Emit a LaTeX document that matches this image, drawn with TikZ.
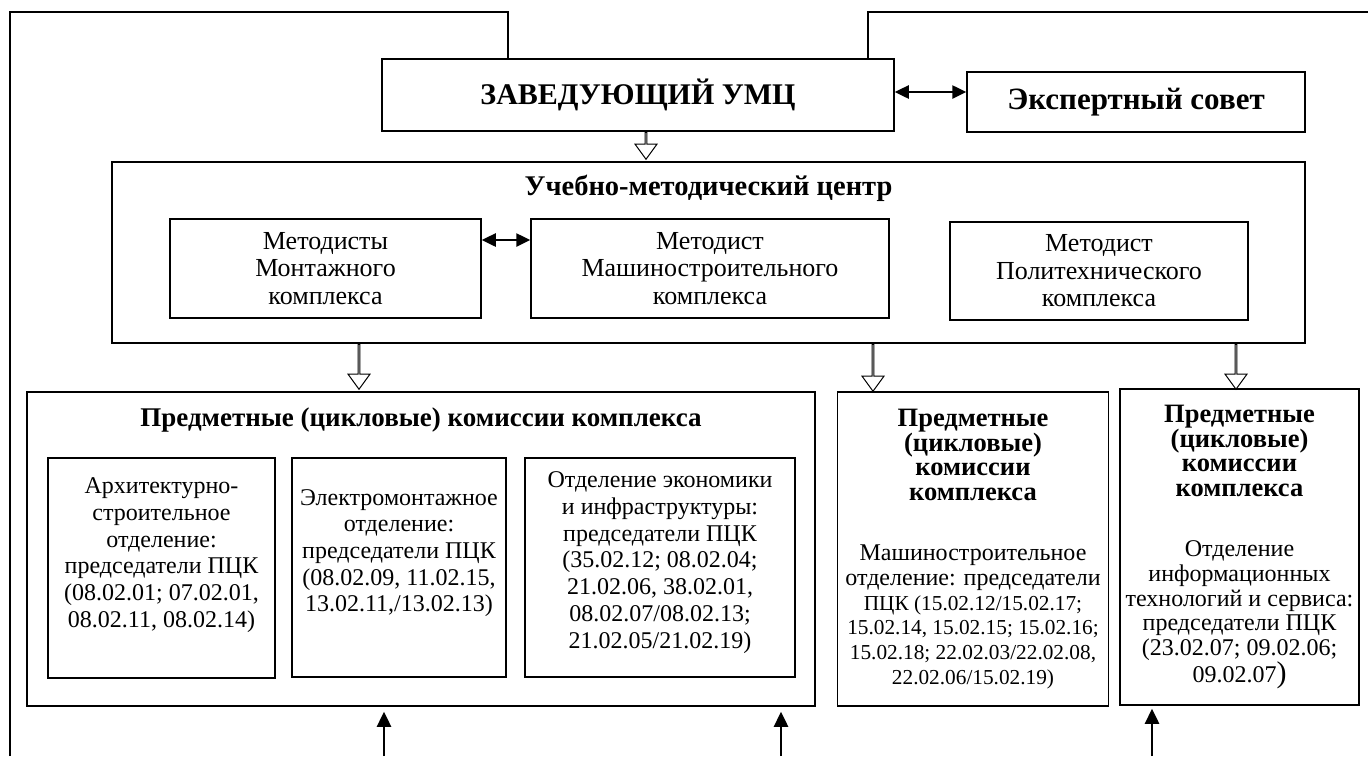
\documentclass[tikz,border=0pt]{standalone}
\usepackage{fontspec}
\setmainfont{Liberation Serif}
\usetikzlibrary{arrows.meta,shapes.arrows}

\newcommand\hdfont{\bfseries\fontsize{26.5}{24.8}\selectfont}
\newcommand\smfont{\fontsize{21.3}{24.8}\selectfont}

\begin{document}
\begin{tikzpicture}[x=1pt,y=-1pt,
  every node/.style={font=\fontsize{24}{26.7}\selectfont},
  box/.style={draw,line width=1.5pt,inner sep=0pt,align=center},
  txt/.style={align=center,inner sep=0pt},
  harrow/.style={draw,line width=1pt,single arrow,shape border rotate=270,
    single arrow head extend=6pt,single arrow tip angle=72,minimum width=22pt,
    inner sep=0pt,anchor=tail},
  link/.style={line width=1.5pt},
  both/.style={line width=2.5pt,<->,>={Triangle[length=14pt,width=13pt]}},
  up/.style={line width=2.5pt,->,>={Triangle[length=15pt,width=14pt]}}]
  \useasboundingbox (0,0) rectangle (1368,756);

  % top level
  \node[box,font=\bfseries\fontsize{30}{34}\selectfont,minimum width=512,minimum height=72] (zav) at (638,95) {ЗАВЕДУЮЩИЙ УМЦ};
  \node[box,font=\bfseries\fontsize{31}{34}\selectfont,minimum width=338,minimum height=60] (exp) at (1136,102) {Экспертный совет};
  \draw[both] (zav.east |- 0,92) -- (exp.west |- 0,92);

  % outer frame
  \coordinate (fl) at (10,756);
  \coordinate (fr) at (1368,12);
  \draw[link] (fl) |- (508,12) -- (zav.north -| 508,0);
  \draw[link] (zav.north -| 868,0) |- (fr);

  % UMC
  \node[box,minimum width=1193,minimum height=181] (umc) at (708.5,252.5) {};
  \node[font=\bfseries\fontsize{28.5}{30}\selectfont] (umct) at (708.5,188) {Учебно-методический центр};
  \node[box,font=\fontsize{26}{27.5}\selectfont,minimum width=311,minimum height=99] (met1) at (325.5,268.5) {Методисты\\Монтажного\\комплекса};
  \node[box,font=\fontsize{26}{27.5}\selectfont,minimum width=358,minimum height=99] (met2) at (710,268.5) {Методист\\Машиностроительного\\комплекса};
  \node[box,font=\fontsize{26}{27.5}\selectfont,minimum width=298,minimum height=98] (met3) at (1099,271) {Методист\\Политехнического\\комплекса};
  \draw[both] (met1.east |- 0,240) -- (met2.west |- 0,240);

  \node[harrow,minimum height=27] (h0) at (zav.south -| 646,0) {};
  \node[harrow,minimum height=45] (h1) at (umc.south -| 359,0) {};
  \node[harrow,minimum height=47] (h2) at (umc.south -| 873,0) {};
  \node[harrow,minimum height=45] (h3) at (umc.south -| 1236,0) {};

  % PCK
  \node[box,minimum width=788,minimum height=314] (pck) at (421,549) {};
  \node[font=\bfseries\fontsize{27}{30}\selectfont] (pckt) at (421,420) {Предметные (цикловые) комиссии комплекса};
  \node[box,minimum width=227,minimum height=220] (b1) at (161.5,568) {};
  \node[txt] (b1t) at (161.5,555) {Архитектурно-\\строительное\\отделение:\\председатели ПЦК\\(08.02.01; 07.02.01,\\08.02.11, 08.02.14)};
  \node[box,minimum width=214,minimum height=219] (b2) at (399,567.5) {};
  \node[txt] (b2t) at (399,553) {Электромонтажное\\отделение:\\председатели ПЦК\\(08.02.09, 11.02.15,\\13.02.11,/13.02.13)};
  \node[box,minimum width=270,minimum height=219] (b3) at (660,567.5) {};
  \node[txt] (b3t) at (660,562.5) {Отделение экономики\\и инфраструктуры:\\председатели ПЦК\\(35.02.12; 08.02.04;\\21.02.06, 38.02.01,\\08.02.07/08.02.13;\\21.02.05/21.02.19)};

  \node[box,font=\fontsize{24}{24.8}\selectfont,minimum width=271,minimum height=314] (mid) at (973,549) {\hdfont Предметные\\\hdfont (цикловые)\\\hdfont комиссии\\\hdfont комплекса\\[35pt]Машиностроительное\\отделение: председатели\\\smfont ПЦК (15.02.12/15.02.17;\\\smfont 15.02.14, 15.02.15; 15.02.16;\\\smfont 15.02.18; 22.02.03/22.02.08,\\\smfont 22.02.06/15.02.19)};
  \node[box,font=\fontsize{24}{24.8}\selectfont,minimum width=239,minimum height=316] (rgt) at (1239.5,547) {\hdfont Предметные\\\hdfont (цикловые)\\\hdfont комиссии\\\hdfont комплекса\\[35pt]Отделение\\информационных\\технологий и сервиса:\\председатели ПЦК\\(23.02.07; 09.02.06;\\09.02.07{\fontsize{30}{30}\selectfont)}};

  % arrows from below
  \coordinate (u1) at (384,756);
  \coordinate (u2) at (781,756);
  \coordinate (u3) at (1152,756);
  \draw[up,shorten >=5pt] (u1) -- (u1 |- pck.south);
  \draw[up,shorten >=5pt] (u2) -- (u2 |- pck.south);
  \draw[up,shorten >=3pt] (u3) -- (u3 |- rgt.south);
\end{tikzpicture}
\end{document}
